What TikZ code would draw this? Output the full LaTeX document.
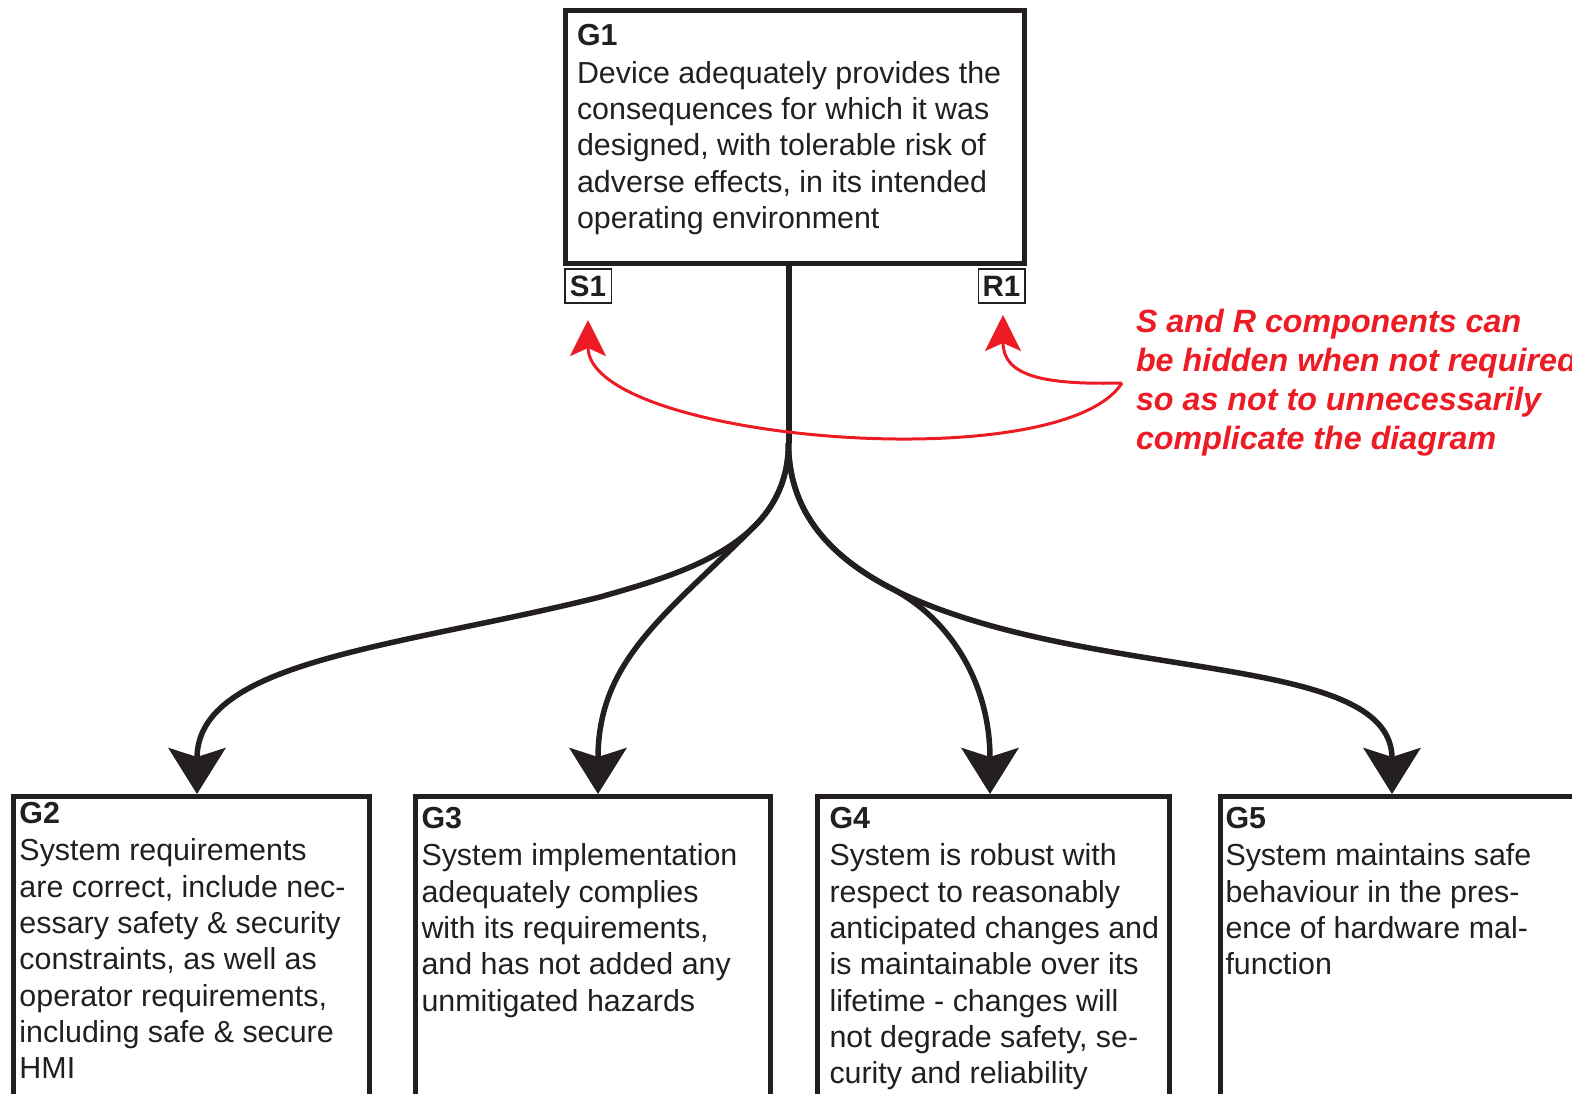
\documentclass[tikz,border=0pt]{standalone}
\usepackage{fontspec}
\setmainfont{Liberation Sans}
\usetikzlibrary{arrows.meta}
\definecolor{ink}{HTML}{231F20}
\definecolor{notered}{HTML}{ED1C24}
% fixes the height of the first line of a text block
\newcommand{\firstline}[1]{\rule{0pt}{#1}}
\begin{document}
\begin{tikzpicture}[x=1pt,y=-1pt,
  goalbox/.style={draw=ink, line width=5pt, inner sep=0pt, outer sep=0pt, anchor=north west},
  goaltext/.style={anchor=north west, inner sep=0pt, outer sep=0pt, align=left, text=ink,
    font=\fontsize{30.4}{36.3}\selectfont},
  tagbox/.style={draw=ink, line width=1.5pt, inner sep=0pt, outer sep=0pt,
    minimum width=46.5pt, minimum height=34pt, text=ink,
    font=\fontsize{29.5}{30}\selectfont\bfseries},
  branch/.style={draw=ink, line width=5.5pt, -{Stealth[length=46pt,width=57pt,inset=9pt]}},
  notearrow/.style={draw=notered, line width=3pt, -{Stealth[length=36pt,width=36pt,inset=8pt]}},
  notetext/.style={anchor=north west, inner sep=0pt, outer sep=0pt, align=left, text=notered,
    font=\fontsize{32.25}{39}\selectfont\bfseries\itshape}
]
\path[use as bounding box] (0,0) rectangle (1572,1093);
\clip (0,0) rectangle (1572,1093);
\fill[white] (0,0) rectangle (1572,1093);

% top goal
\node[goalbox, minimum width=459pt, minimum height=253pt] (g1) at (565,10.5) {};
\node[goaltext] (g1text) at (577,23) {\firstline{22pt}\textbf{G1}\\[2pt]
  Device adequately provides the\\
  consequences for which it was\\
  designed, with tolerable risk of\\
  adverse effects, in its intended\\
  operating environment};

% strategy and rationale tags
\node[tagbox] (s1) at (588,286) {S1};
\node[tagbox] (r1) at (1001.5,286) {R1};

% sub-goals
\node[goalbox, minimum width=356pt, minimum height=400pt] (g2) at (13.5,796) {};
\node[goalbox, minimum width=355pt, minimum height=400pt] (g3) at (415.5,796) {};
\node[goalbox, minimum width=352pt, minimum height=400pt] (g4) at (817.5,796) {};
\node[goalbox, minimum width=356pt, minimum height=400pt] (g5) at (1220.5,796) {};

\node[goaltext] (g2text) at (19.5,801) {\firstline{22pt}\textbf{G2}\\[1.5pt]
  System requirements\\
  are correct, include nec-\\
  essary safety \& security\\
  constraints, as well as\\
  operator requirements,\\
  including safe \& secure\\
  HMI};
\node[goaltext] (g3text) at (421.5,806) {\firstline{22pt}\textbf{G3}\\[1.5pt]
  System implementation\\
  adequately complies\\
  with its requirements,\\
  and has not added any\\
  unmitigated hazards};
\node[goaltext] (g4text) at (829.5,806) {\firstline{22pt}\textbf{G4}\\[1.5pt]
  System is robust with\\
  respect to reasonably\\
  anticipated changes and\\
  is maintainable over its\\
  lifetime - changes will\\
  not degrade safety, se-\\
  curity and reliability};
\node[goaltext] (g5text) at (1225.5,806) {\firstline{22pt}\textbf{G5}\\[1.5pt]
  System maintains safe\\
  behaviour in the pres-\\
  ence of hardware mal-\\
  function};

% decomposition tree
\coordinate (split) at (788.5,443);
\coordinate (g2in) at ([xshift=5.5pt,yshift=2pt]g2.north);
\coordinate (g3in) at ([xshift=5pt,yshift=2pt]g3.north);
\coordinate (g4in) at ([xshift=-3.5pt,yshift=2pt]g4.north);
\coordinate (g5in) at ([xshift=-6.5pt,yshift=2pt]g5.north);

\draw[ink, line width=6pt] ([xshift=-6pt]g1.south) -- (split);
% left pair shares its first stretch
\draw[branch] (split) .. controls +(0,102) and (680,574) .. (600,597)
  .. controls (400,647) and +(0,-134) .. (g2in);
\draw[branch] (split) .. controls (788.5,478.7) and (775.2,505.5) .. (754.5,526.3)
  .. controls (665.7,615) and +(0,-134) .. (g3in);
% right pair shares its first stretch
\draw[branch] (split) .. controls (788.5,504.6) and (821.5,552.1) .. (890.9,588.1)
  .. controls (951,619) and +(0,-110) .. (g4in);
\draw[branch] (split) .. controls +(0,77) and (840,575) .. (950,613)
  .. controls (1140,679) and +(0,-134) .. (g5in);

% annotation
\node[notetext] (note) at (1136,308) {\firstline{24pt}S and R components can\\
  be hidden when not required\\
  so as not to unnecessarily\\
  complicate the diagram};
\coordinate (fork) at (1122,383);
\draw[notearrow] (fork) .. controls (1060,480) and +(0,120) .. ([yshift=-17pt]s1.south);
\draw[notearrow] (fork) .. controls (1040,385) and +(0,60) .. ([xshift=1.5pt,yshift=-12pt]r1.south);
\end{tikzpicture}
\end{document}
